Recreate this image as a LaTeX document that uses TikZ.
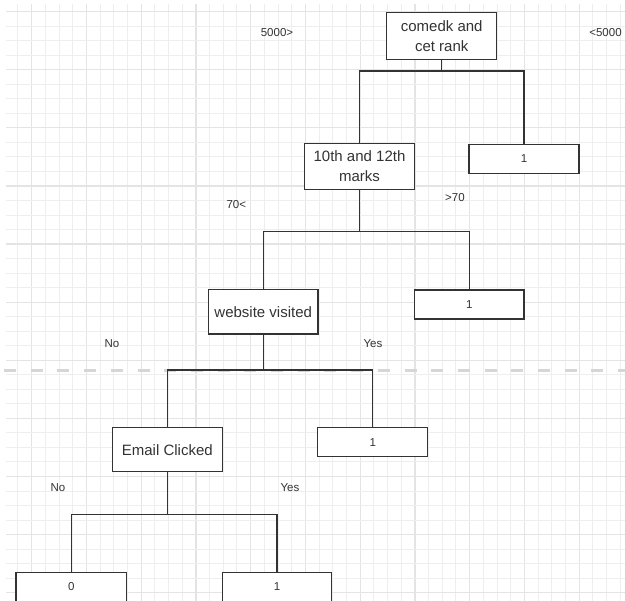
\documentclass[tikz,border=0pt]{standalone}
\usepackage{fontspec}
\setmainfont{Liberation Sans}
\begin{document}
\begin{tikzpicture}[x=1pt,y=-1pt,
  every node/.style={text=inkgray},
  treebox/.style={draw=inkgray, line width=1.3pt, fill=white, inner sep=0pt,
    align=center, font=\fontsize{15}{20}\selectfont},
  leafbox/.style={treebox, font=\fontsize{11.5}{13}\selectfont},
  branchlabel/.style={font=\fontsize{11.5}{13}\selectfont},
  link/.style={draw=inkgray, line width=1.3pt},
  minorline/.style={draw=gridminor, line width=1pt},
  majorline/.style={draw=gridmajor, line width=1.2pt},
  separator/.style={draw=sepgray, line width=3pt, dash pattern=on 12pt off 14.7pt}]
\definecolor{inkgray}{HTML}{333333}
\definecolor{gridminor}{HTML}{EEEEEE}
\definecolor{gridmajor}{HTML}{E4E4E4}
\definecolor{sepgray}{HTML}{D6D6D6}
\useasboundingbox[fill=white] (0,0) rectangle (625,601);

% background grid
\foreach \i in {0,...,44} {
  \pgfmathsetmacro{\gx}{17.99+13.6875*\i}
  \pgfmathtruncatemacro{\gm}{mod(\i+3,4)}
  \ifnum\gm=0
    \draw[majorline] (\gx,4) -- (\gx,601);
  \else
    \draw[minorline] (\gx,4) -- (\gx,601);
  \fi
}
\foreach \j in {0,...,40} {
  \pgfmathsetmacro{\gy}{11.7+14.525*\j}
  \pgfmathtruncatemacro{\gm}{mod(\j,4)}
  \ifnum\gm=0
    \draw[majorline] (6,\gy) -- (625,\gy);
  \else
    \draw[minorline] (6,\gy) -- (625,\gy);
  \fi
}

% page separator
\draw[separator] (4,370.7) -- (625,370.7);

% decision nodes
\node[treebox, minimum width=110pt, minimum height=46.6pt] (root) at (441.7,36) {comedk and\\cet rank};
\node[treebox, minimum width=110.3pt, minimum height=46pt] (marks) at (359.5,166.3) {10th and 12th\\marks};
\node[treebox, minimum width=109.4pt, minimum height=44.7pt] (web) at (263.2,311.7) {website visited};
\node[treebox, minimum width=110pt, minimum height=44pt] (email) at (167.3,449.7) {Email Clicked};

% leaves
\node[leafbox, minimum width=110pt, minimum height=28.6pt] (r1) at (524,159) {1};
\node[leafbox, minimum width=109.7pt, minimum height=29pt] (m1) at (469.2,304.5) {1};
\node[leafbox, minimum width=110pt, minimum height=29pt] (w1) at (372.7,442.2) {1};
\node[leafbox, minimum width=110.7pt, minimum height=29pt] (e0) at (71.3,586.8) {0};
\node[leafbox, minimum width=109.4pt, minimum height=29pt] (e1) at (277,586.8) {1};

% branch junctions
\coordinate (j1) at (441.7,71);
\coordinate (j2) at (359.5,231.7);
\coordinate (j3) at (263.2,370);
\coordinate (j4) at (167.3,514.3);

% connectors
\draw[link] (root.south) -- (j1);
\draw[link] (marks.north) |- (j1) -| (r1.north);
\draw[link] (marks.south) -- (j2);
\draw[link] (web.north) |- (j2) -| (m1.north);
\draw[link] (web.south) -- (j3);
\draw[link] (email.north) |- (j3) -| (w1.north);
\draw[link] (email.south) -- (j4);
\draw[link] (e0.north) |- (j4) -| (e1.north);

% branch labels
\node[branchlabel] (lroot1) at (277,33) {5000>};
\node[branchlabel] (lroot2) at (605.5,33) {<5000};
\node[branchlabel] (lmarks1) at (236.3,205) {70<};
\node[branchlabel] (lmarks2) at (455,198) {>70};
\node[branchlabel] (lweb1) at (112,344) {No};
\node[branchlabel] (lweb2) at (373,344) {Yes};
\node[branchlabel] (lemail1) at (58,488) {No};
\node[branchlabel] (lemail2) at (290,488) {Yes};
\end{tikzpicture}
\end{document}
